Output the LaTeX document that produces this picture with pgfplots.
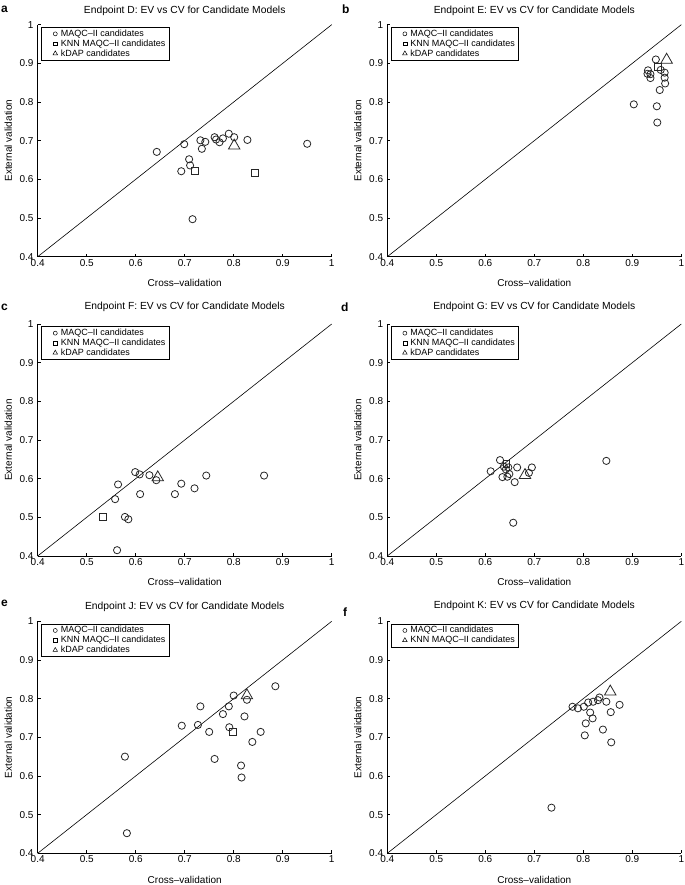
\documentclass[border=0pt]{standalone}
\usepackage{fontspec}
\setmainfont{Liberation Sans}
\usepackage{pgfplots}
\pgfplotsset{compat=1.18}
\pgfplotsset{
  panel/.style={
    scale only axis, width=294bp, height=232bp,
    xmin=0.4, xmax=1, ymin=0.4, ymax=1,
    axis x line*=bottom, axis y line*=left,
    axis line style={-, line width=0.5bp, black},
    xtick={0.4,0.5,0.6,0.7,0.8,0.9,1}, ytick={0.4,0.5,0.6,0.7,0.8,0.9,1},
    xticklabels={0.4,0.5,0.6,0.7,0.8,0.9,1}, yticklabels={0.4,0.5,0.6,0.7,0.8,0.9,1},
    tick align=inside, major tick length=3bp,
    tick style={line width=0.5bp, black},
    ticklabel style={font=\fontsize{10bp}{12bp}\selectfont},
    xticklabel style={inner sep=2.5bp},
    yticklabel style={inner sep=4bp},
    xlabel={Cross–validation}, ylabel={External validation},
    label style={font=\fontsize{10bp}{12bp}\selectfont},
    xlabel style={at={(axis description cs:0.5,-0.113)}, anchor=center},
    ylabel style={at={(axis description cs:-0.1,0.5)}, anchor=center},
    every axis title/.style={at={(axis description cs:0.5,1)}, anchor=base, font=\fontsize{10.3bp}{12bp}\selectfont},
    clip=false,
    legend style={at={(axis description cs:0.0113,0.9896)}, anchor=north west,
      draw=black, line width=0.5bp, font=\fontsize{9bp}{10bp}\selectfont,
      inner xsep=2bp, inner ysep=1bp, row sep=-1.2bp,
      nodes={inner sep=1.5bp, anchor=west}, cells={anchor=west}},
    legend cell align=left,
    legend image code/.code={\path[draw=none] (0bp,0bp) -- (16bp,0bp); \draw[#1] plot coordinates {(12bp,0bp)};},
  },
  circ/.style={only marks, mark=o, mark size=3.6bp, mark options={draw=black!85, line width=0.8bp},
    legend image post style={mark size=2bp, mark options={line width=0.5bp}}},
  sq/.style={only marks, mark=square, mark size=3.4bp, mark options={draw=black!85, line width=0.8bp},
    legend image post style={mark size=1.9bp, mark options={line width=0.5bp}}},
  tri/.style={only marks, mark=triangle, mark size=6.6bp, mark options={draw=black!85, line width=0.8bp},
    legend image post style={mark size=2.6bp, mark options={line width=0.5bp}}},
  diag/.style={black, line width=0.6bp, forget plot},
}
\newcommand{\plab}[1]{\fontsize{12bp}{14bp}\selectfont\bfseries #1}
\begin{document}
\begin{tikzpicture}[x=1bp,y=1bp]
\path[use as bounding box, fill=white] (0,0) rectangle (685,885);

% ---------- a ----------
\begin{axis}[panel, at={(37.7bp,628.3bp)}, anchor=south west,
  title={Endpoint D: EV vs CV for Candidate Models}, title style={yshift=10.7bp}]
\addplot[diag] coordinates {(0.4,0.4) (1,1)};
\addplot[circ] coordinates {(0.643,0.671) (0.699,0.691) (0.693,0.621) (0.709,0.652) (0.711,0.636) (0.716,0.497) (0.732,0.701) (0.735,0.679) (0.742,0.697) (0.761,0.709) (0.764,0.703) (0.771,0.696) (0.778,0.706) (0.790,0.718) (0.801,0.709) (0.828,0.702) (0.950,0.692)};
\addlegendentry{MAQC–II candidates}
\addplot[sq] coordinates {(0.720,0.622) (0.843,0.616)};
\addlegendentry{KNN MAQC–II candidates}
\addplot[tri] coordinates {(0.801,0.687)};
\addlegendentry{kDAP candidates}
\end{axis}

% ---------- b ----------
\begin{axis}[panel, at={(387.3bp,628.3bp)}, anchor=south west,
  title={Endpoint E: EV vs CV for Candidate Models}, title style={yshift=10.7bp}]
\addplot[diag] coordinates {(0.4,0.4) (1,1)};
\addplot[circ] coordinates {(0.948,0.910) (0.932,0.882) (0.931,0.873) (0.937,0.872) (0.937,0.862) (0.958,0.883) (0.966,0.876) (0.966,0.863) (0.967,0.848) (0.956,0.831) (0.903,0.794) (0.950,0.789) (0.951,0.747)};
\addlegendentry{MAQC–II candidates}
\addplot[sq] coordinates {(0.952,0.891)};
\addlegendentry{KNN MAQC–II candidates}
\addplot[tri] coordinates {(0.970,0.909)};
\addlegendentry{kDAP candidates}
\end{axis}

% ---------- c ----------
\begin{axis}[panel, at={(37.7bp,329bp)}, anchor=south west,
  title={Endpoint F: EV vs CV for Candidate Models}, title style={yshift=14.7bp}]
\addplot[diag] coordinates {(0.4,0.4) (1,1)};
\addplot[circ] coordinates {(0.599,0.617) (0.608,0.611) (0.628,0.609) (0.564,0.585) (0.558,0.547) (0.609,0.560) (0.578,0.501) (0.585,0.495) (0.562,0.415) (0.680,0.560) (0.693,0.587) (0.720,0.575) (0.744,0.608) (0.862,0.608) (0.642,0.596)};
\addlegendentry{MAQC–II candidates}
\addplot[sq] coordinates {(0.533,0.501)};
\addlegendentry{KNN MAQC–II candidates}
\addplot[tri] coordinates {(0.645,0.603)};
\addlegendentry{kDAP candidates}
\end{axis}

% ---------- d ----------
\begin{axis}[panel, at={(387.3bp,329bp)}, anchor=south west,
  title={Endpoint G: EV vs CV for Candidate Models}, title style={yshift=14.7bp}]
\addplot[diag] coordinates {(0.4,0.4) (1,1)};
\addplot[circ] coordinates {(0.630,0.648) (0.611,0.619) (0.638,0.631) (0.642,0.624) (0.649,0.612) (0.647,0.629) (0.635,0.604) (0.645,0.605) (0.665,0.629) (0.660,0.591) (0.695,0.629) (0.689,0.615) (0.657,0.486) (0.847,0.646)};
\addlegendentry{MAQC–II candidates}
\addplot[sq] coordinates {(0.643,0.638)};
\addlegendentry{KNN MAQC–II candidates}
\addplot[tri] coordinates {(0.681,0.609)};
\addlegendentry{kDAP candidates}
\end{axis}

% ---------- e ----------
\begin{axis}[panel, at={(37.7bp,31.7bp)}, anchor=south west,
  title={Endpoint J: EV vs CV for Candidate Models}, title style={yshift=12.1bp}]
\addplot[diag] coordinates {(0.4,0.4) (1,1)};
\addplot[circ] coordinates {(0.694,0.730) (0.732,0.780) (0.727,0.732) (0.750,0.714) (0.778,0.760) (0.790,0.780) (0.800,0.808) (0.791,0.726) (0.827,0.797) (0.822,0.754) (0.855,0.714) (0.838,0.688) (0.761,0.644) (0.815,0.627) (0.816,0.596) (0.885,0.832) (0.578,0.650) (0.582,0.452)};
\addlegendentry{MAQC–II candidates}
\addplot[sq] coordinates {(0.799,0.713)};
\addlegendentry{KNN MAQC–II candidates}
\addplot[tri] coordinates {(0.827,0.808)};
\addlegendentry{kDAP candidates}
\end{axis}

% ---------- f ----------
\begin{axis}[panel, at={(387.3bp,31.7bp)}, anchor=south west,
  title={Endpoint K: EV vs CV for Candidate Models}, title style={yshift=12.7bp}]
\addplot[diag] coordinates {(0.4,0.4) (1,1)};
\addplot[circ] coordinates {(0.778,0.779) (0.789,0.775) (0.801,0.779) (0.810,0.790) (0.820,0.792) (0.830,0.796) (0.833,0.803) (0.847,0.792) (0.874,0.784) (0.814,0.764) (0.819,0.749) (0.856,0.765) (0.805,0.736) (0.840,0.720) (0.803,0.705) (0.857,0.687) (0.735,0.518)};
\addlegendentry{MAQC–II candidates}
\addplot[tri] coordinates {(0.855,0.818)};
\addlegendentry{KNN MAQC–II candidates}
\end{axis}

% panel letters
\node[anchor=base west, inner sep=0] at (1,885-13) {\plab{a}};
\node[anchor=base west, inner sep=0] at (342,885-14) {\plab{b}};
\node[anchor=base west, inner sep=0] at (1,885-311) {\plab{c}};
\node[anchor=base west, inner sep=0] at (341,885-312) {\plab{d}};
\node[anchor=base west, inner sep=0] at (1,885-607) {\plab{e}};
\node[anchor=base west, inner sep=0] at (343,885-617) {\plab{f}};
\end{tikzpicture}
\end{document}
